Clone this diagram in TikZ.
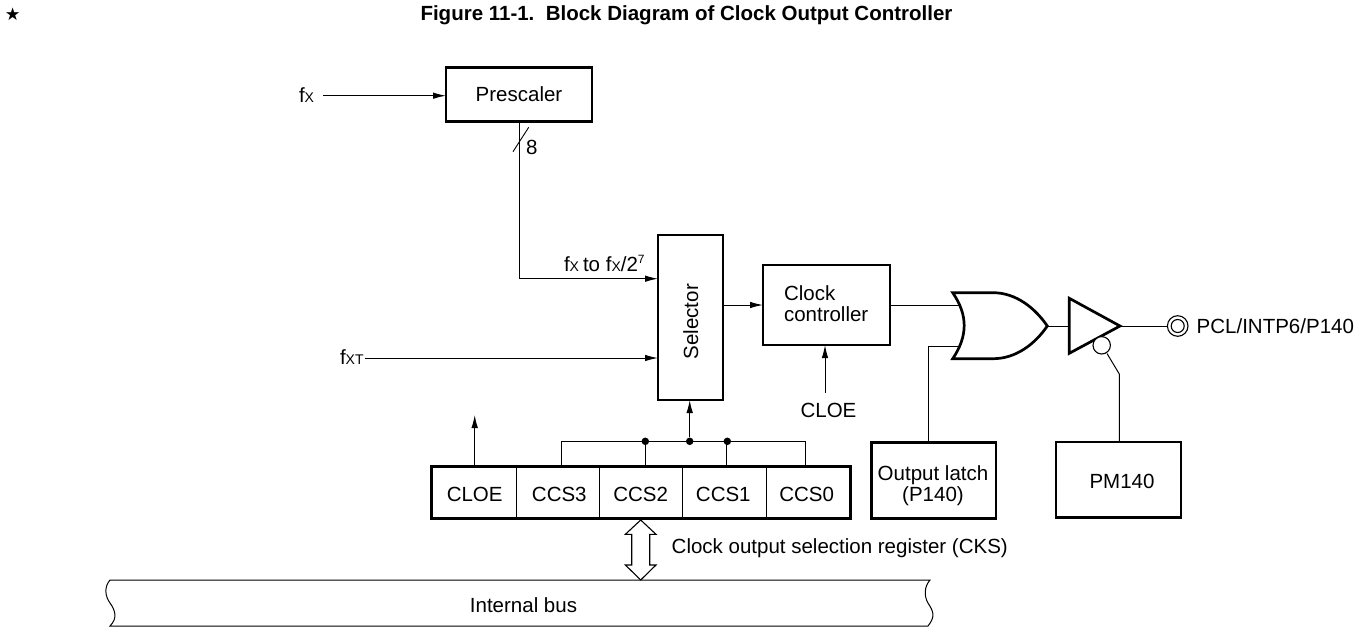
\documentclass[tikz,border=0pt]{standalone}
\usepackage{fontspec}
\setmainfont{Liberation Sans}
\newfontfamily\symfont{DejaVu Sans}
\usetikzlibrary{arrows.meta,calc}
\newcommand{\lblsize}{\fontsize{20.5}{21}\selectfont}
\newcommand{\subX}{{\fontsize{14}{14}\selectfont X}}
\newcommand{\subXT}{{\fontsize{14}{14}\selectfont XT}}
\tikzset{
  x=1pt,y=-1pt,
  wire/.style={line width=1pt,line cap=butt},
  arrowwire/.style={wire,-{Latex[length=13pt,width=6.5pt]}},
  blockbox/.style={draw,line width=2.7pt,inner sep=0pt,outer sep=0pt,align=center,font=\lblsize},
  gate/.style={line width=2.7pt,line join=miter},
  lbl/.style={inner sep=0pt,outer sep=0pt,font=\lblsize},
  junction/.style={circle,fill,inner sep=0pt,minimum size=7.5pt},
}
\begin{document}
\begin{tikzpicture}
\useasboundingbox (0,0) rectangle (1369,627);
% title
\node[lbl,anchor=center,font=\symfont\fontsize{17.5}{18}\selectfont] (star) at (12.7,14.2) {★};
\node[lbl,anchor=base west,font=\lblsize\bfseries] (title) at (420.5,20) {Figure 11-1.\ \ Block Diagram of Clock Output Controller};
% boxes
\node[blockbox,minimum width=146pt,minimum height=54pt] (pre) at (519,94.6) {Prescaler};
\node[blockbox,minimum width=65pt,minimum height=165pt] (sel) at (690.5,317.5) {};
\node[lbl,rotate=90] (seltxt) at (690.7,321.7) {Selector};
\node[blockbox,minimum width=127pt,minimum height=80pt] (clk) at (826.5,305) {};
\node[lbl,anchor=base west] (clk1) at (784,300) {Clock};
\node[lbl,anchor=base west] (clk2) at (784,321) {controller};
\node[blockbox,minimum width=418.6pt,minimum height=52pt] (reg) at (641,492.8) {};
\node[blockbox,minimum width=124.7pt,minimum height=76pt] (latch) at (933.6,480.7) {};
\node[lbl,anchor=base] (lat1) at (933,480.7) {Output latch};
\node[lbl,anchor=base] (lat2) at (933,501.7) {(P140)};
\node[blockbox,minimum width=125pt,minimum height=75.7pt] (pm) at (1118.5,479.9) {};
\node[lbl] (pmt) at (1122,481.7) {PM140};
% register cells
\coordinate (d1) at (516.3,466.8); \coordinate (d2) at (599.7,466.8);
\coordinate (d3) at (682.7,466.8); \coordinate (d4) at (766,466.8);
\foreach \d in {d1,d2,d3,d4} \draw[wire] (\d) -- (\d |- reg.south);
\node[lbl] (cloer) at (474.7,494.7) {CLOE};
\node[lbl] (ccs3) at (559.3,494.7) {CCS3};
\node[lbl] (ccs2) at (640.7,494.7) {CCS2};
\node[lbl] (ccs1) at (723.3,494.7) {CCS1};
\node[lbl] (ccs0) at (806.7,494.7) {CCS0};
% input labels and wires
\node[lbl,anchor=base west] (fx) at (299,102.5) {f\subX};
\coordinate (fxs) at (323,95.7);
\draw[arrowwire] (fxs) -- (fxs -| pre.west);
\coordinate (busin) at (658,278.7);
\draw[arrowwire] (pre.south -| 519.3,0) -- (519.3,278.7) -- (sel.west |- busin);
\coordinate (sl1) at (513,151.7); \coordinate (sl2) at (528.7,127.3);
\draw[line width=0.9pt] (sl1) -- (sl2);
\node[lbl,anchor=base west] (eight) at (526,154) {8};
\node[lbl,anchor=base west] (fxto) at (564,271.7) {f\subX\hspace{4pt}to f\subX/2\raisebox{8pt}{\fontsize{12}{12}\selectfont 7}};
\node[lbl,anchor=base west] (fxt) at (340,364.3) {f\subXT};
\coordinate (fxts) at (365,358);
\draw[arrowwire] (fxts) -- (fxts -| sel.west);
\coordinate (selout) at (723,305);
\draw[arrowwire] (selout) -- (selout -| clk.west);
\node[lbl] (cloel) at (828.5,410) {CLOE};
\coordinate (cloes) at (825,392.7);
\draw[arrowwire] (cloes) -- (cloes |- clk.south);
% selection bus
\coordinate (bl) at (561.3,441.3); \coordinate (br) at (805.7,441.3);
\draw[wire] (bl |- reg.north) -- (bl) -- (br) -- (br |- reg.north);
\node[junction] (j1) at (645.3,441.3) {};
\node[junction] (j2) at (689.7,441.3) {};
\node[junction] (j3) at (727.3,441.3) {};
\draw[wire] (j1) -- (j1 |- reg.north);
\draw[wire] (j3.center -| 726.5,0) -- (726.5,466.8);
\draw[arrowwire] (j2) -- (j2 |- sel.south);
\coordinate (cloeup) at (474.7,415);
\draw[arrowwire] (cloeup |- reg.north) -- (cloeup);
% double arrow
\coordinate (da) at (640.7,520);
\draw[line width=1.1pt,fill=white,line join=miter] (da) -- ++(15.3,14.3) -- ++(-6.3,0) -- ++(0,30.7) -- ++(6.3,0)
  -- ++(-15.3,15) -- ++(-15.3,-15) -- ++(6.3,0) -- ++(0,-30.7) -- ++(-6.3,0) -- cycle;
\node[lbl,anchor=west] (cks) at (671.7,548) {Clock output selection register (CKS)};
% internal bus
\draw[wire] (110,580) -- (930,580) .. controls (924,587) and (924,596) .. (928,603)
  .. controls (933,611) and (936,616) .. (928,626) -- (110,626)
  .. controls (118,618) and (115,610) .. (110,603) .. controls (105,596) and (104,587) .. (110,580) -- cycle;
\node[lbl] (ib) at (523.5,605) {Internal bus};
% OR gate
\coordinate (ortop) at (952.7,292.7); \coordinate (orbot) at (952.7,358.7);
\coordinate (ortip) at (1047.3,326);
\draw[gate] (ortop) -- (993,292.7) .. controls (1016,292.7) and (1035,308) .. (ortip)
  .. controls (1035,344) and (1016,358.7) .. (993,358.7) -- (orbot)
  .. controls (968,336) and (968,315) .. (ortop) -- cycle;
\coordinate (or1) at (960.5,305.3); \coordinate (or2) at (960.5,346.7);
\draw[wire] (clk.east |- or1) -- (or1);
\draw[wire] (or2) -- (928.7,346.7) -- (928.7,442.7 -| 928.7,0);
% buffer
\coordinate (bufl) at (1069.3,326); \coordinate (buft) at (1120,326);
\draw[gate] (1069.3,298.3) -- (buft) -- (1069.3,353.3) -- cycle;
\draw[wire] (ortip) -- (bufl);
\node[draw,circle,line width=1.1pt,inner sep=0pt,outer sep=0pt,minimum size=17.4pt,fill=white] (bub) at (1101.7,345.3) {};
\draw[wire] (bub) ++(5.3,8.2) -- (1119.3,374) -- (1119.3,442);
% output pin
\node[draw,circle,line width=1.1pt,inner sep=0pt,outer sep=0pt,minimum size=20.6pt] (pin) at (1177.7,326) {};
\node[draw,circle,line width=1.1pt,inner sep=0pt,minimum size=13pt] (pinin) at (pin) {};
\draw[wire] (buft) -- (pin);
\node[lbl,anchor=west] (pcl) at (1196.7,326) {PCL/INTP6/P140};
\end{tikzpicture}
\end{document}
